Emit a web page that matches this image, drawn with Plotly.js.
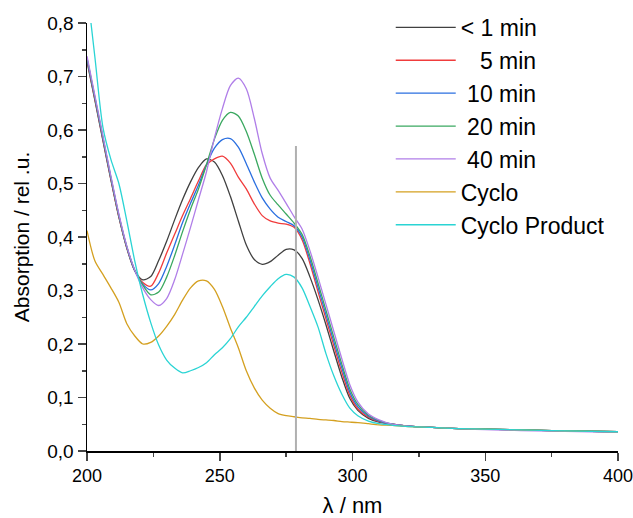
<!DOCTYPE html>
<html>
<head>
<meta charset="utf-8">
<script src="https://cdn.plot.ly/plotly-3.0.1.min.js"></script>
<style>html,body{margin:0;padding:0;background:#fff;}#chart{width:633px;height:518px;}</style>
</head>
<body>
<div id="chart"></div>
<script>
// Wavelength grid (nm)
const wl = [200,203,206,209,212,215,218,221,224,227,230,233,236,239,242,245,248,251,254,257,260,263,266,269,272,275,278,281,284,287,290,293,296,299,302,306,310,315,320,330,340,350,375,400];

const seriesNames = ["< 1 min", "\u00a0\u00a0\u00a05 min", "\u00a010 min", "\u00a020 min", "\u00a040 min", "Cyclo", "Cyclo Product"];

const tLess1 = [0.728,0.655,0.580,0.507,0.437,0.379,0.337,0.320,0.326,0.356,0.392,0.432,0.470,0.503,0.530,0.546,0.540,0.515,0.476,0.430,0.385,0.358,0.349,0.354,0.366,0.377,0.376,0.360,0.325,0.283,0.236,0.186,0.138,0.098,0.076,0.061,0.054,0.050,0.047,0.044,0.042,0.041,0.038,0.036];
const t5 = [0.731,0.657,0.582,0.508,0.438,0.380,0.337,0.315,0.308,0.333,0.370,0.405,0.440,0.472,0.505,0.535,0.546,0.551,0.538,0.512,0.490,0.462,0.440,0.430,0.426,0.424,0.418,0.395,0.350,0.298,0.247,0.196,0.147,0.104,0.079,0.063,0.055,0.050,0.047,0.044,0.042,0.041,0.038,0.036];
const t10 = [0.733,0.659,0.584,0.510,0.440,0.381,0.337,0.312,0.301,0.313,0.345,0.385,0.427,0.463,0.497,0.535,0.566,0.582,0.584,0.568,0.537,0.503,0.473,0.452,0.437,0.429,0.421,0.400,0.357,0.306,0.255,0.204,0.155,0.110,0.083,0.065,0.056,0.050,0.047,0.044,0.042,0.041,0.038,0.036];
const t20 = [0.735,0.661,0.586,0.512,0.441,0.382,0.338,0.310,0.292,0.297,0.325,0.365,0.410,0.452,0.490,0.535,0.583,0.618,0.633,0.626,0.597,0.555,0.510,0.478,0.460,0.443,0.426,0.405,0.364,0.314,0.263,0.212,0.162,0.116,0.087,0.067,0.057,0.050,0.047,0.044,0.042,0.041,0.038,0.036];
const t40 = [0.738,0.664,0.589,0.514,0.443,0.383,0.338,0.305,0.283,0.272,0.285,0.320,0.368,0.418,0.470,0.522,0.585,0.640,0.683,0.697,0.677,0.622,0.556,0.510,0.487,0.463,0.438,0.415,0.374,0.325,0.274,0.223,0.172,0.124,0.092,0.069,0.058,0.050,0.047,0.044,0.042,0.040,0.037,0.035];
const cyclo = [0.412,0.355,0.330,0.305,0.278,0.238,0.215,0.200,0.203,0.215,0.233,0.255,0.282,0.305,0.318,0.318,0.302,0.270,0.230,0.193,0.150,0.118,0.095,0.080,0.070,0.066,0.064,0.062,0.061,0.059,0.058,0.057,0.055,0.054,0.053,0.051,0.049,0.048,0.046,0.044,0.042,0.041,0.038,0.036];
const cycloProduct = [0.865,0.735,0.605,0.545,0.500,0.430,0.355,0.292,0.240,0.198,0.170,0.155,0.146,0.150,0.156,0.165,0.180,0.193,0.210,0.232,0.250,0.270,0.290,0.307,0.322,0.330,0.325,0.305,0.270,0.232,0.182,0.140,0.106,0.080,0.066,0.056,0.051,0.048,0.046,0.044,0.042,0.041,0.038,0.036];

const markerWl = [278.7, 278.7];
const markerAbs = [0, 0.57];

const xTicks = [200, 250, 300, 350, 400];
const yTicks = [0, 0.1, 0.2, 0.3, 0.4, 0.5, 0.6, 0.7, 0.8];

const colors = ["#404040", "#f03c3c", "#2a6fe0", "#3aa860", "#b07ee8", "#d4a020", "#2ad4d4"];
const ys = [tLess1, t5, t10, t20, t40, cyclo, cycloProduct];

const traces = ys.map((y, i) => ({
  x: wl, y: y, type: "scatter", mode: "lines", name: seriesNames[i],
  line: {color: colors[i], width: 1.3, shape: "spline", smoothing: 0.8}
}));
traces.push({
  x: markerWl, y: markerAbs, type: "scatter", mode: "lines", showlegend: false,
  line: {color: "#b0b0b0", width: 2}
});

const font = "Liberation Sans, Arial, sans-serif";
const layout = {
  width: 633, height: 518,
  margin: {l: 87, r: 15, t: 23, b: 67, autoexpand: false},
  paper_bgcolor: "#fff", plot_bgcolor: "#fff",
  separators: ",.",
  font: {family: font, color: "#000", size: 18},
  showlegend: true,
  legend: {
    x: 0.572, y: 1.04, xanchor: "left", yanchor: "top",
    font: {family: font, size: 23, color: "#000"},
    bgcolor: "rgba(0,0,0,0)", borderwidth: 0, tracegroupgap: 0, itemwidth: 60
  },
  xaxis: {
    range: [200, 400], tickvals: xTicks, ticks: "outside", ticklen: 8, tickwidth: 1.5,
    showline: true, linecolor: "#000", linewidth: 1.5, showgrid: false, zeroline: false,
    tickfont: {family: font, size: 18}, ticklabeloverflow: "allow",
    minor: {dtick: 25, ticks: "outside", ticklen: 4, tickwidth: 1.5, tick0: 200},
    title: {text: "\u03bb / nm", font: {family: font, size: 22}, standoff: 14}
  },
  yaxis: {
    range: [0, 0.8], tickvals: yTicks, tickformat: ".1f", ticks: "outside", ticklen: 8, tickwidth: 1.5,
    showline: true, linecolor: "#000", linewidth: 1.5, showgrid: false, zeroline: false,
    tickfont: {family: font, size: 19}, ticklabeloverflow: "allow",
    minor: {dtick: 0.05, ticks: "outside", ticklen: 4, tickwidth: 1.5, tick0: 0},
    title: {text: "Absorption / rel .u.", font: {family: font, size: 21}, standoff: 12}
  }
};

Plotly.newPlot("chart", traces, layout, {displayModeBar: false, staticPlot: true});
</script>
</body>
</html>
